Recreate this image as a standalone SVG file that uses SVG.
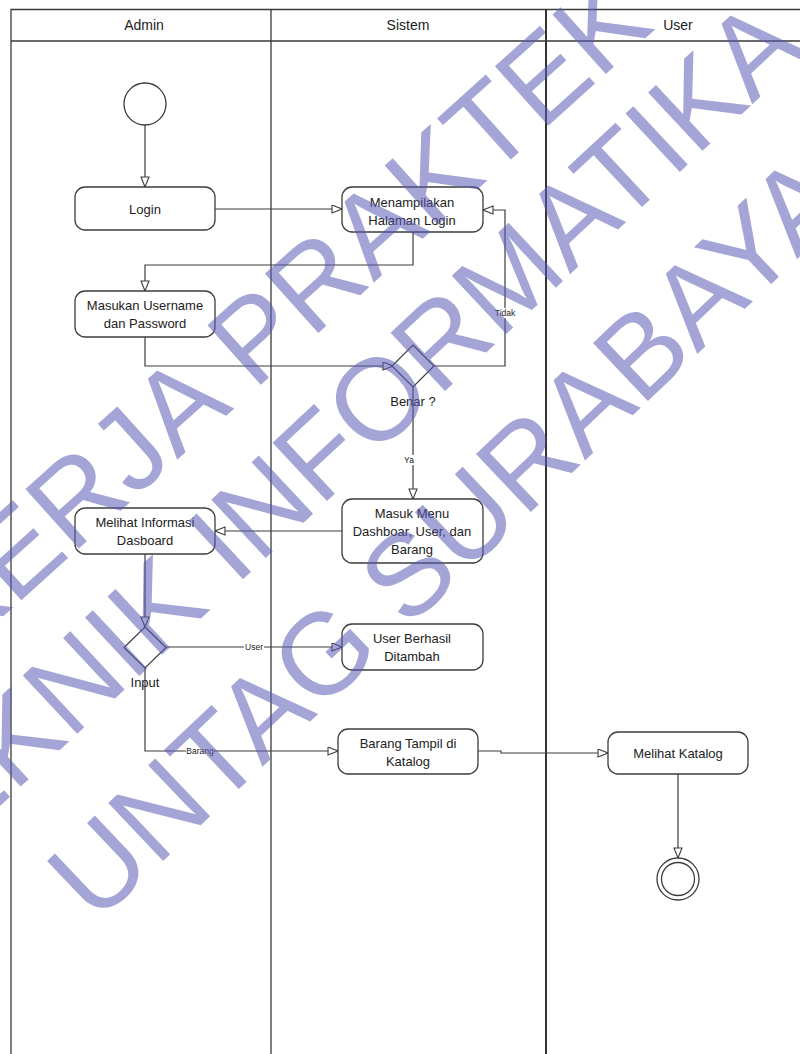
<svg xmlns="http://www.w3.org/2000/svg" width="800" height="1054" viewBox="0 0 800 1054">
<style>
.lane{fill:none;stroke:#3a3a3a;stroke-width:1.3}
.hdr{font-family:"Liberation Sans",Arial,sans-serif;font-size:14px;fill:#222;text-anchor:middle}
.box{fill:#fff;stroke:#3c3c3c;stroke-width:1.3}
.t{font-family:"Liberation Sans",Arial,sans-serif;font-size:13px;fill:#222;text-anchor:middle}
.s{font-family:"Liberation Sans",Arial,sans-serif;font-size:8.5px;fill:#222;text-anchor:middle}
.c{fill:none;stroke:#3c3c3c;stroke-width:1.2;marker-end:url(#arr)}
.lb{fill:#fff}
.wm{font-family:"Liberation Sans",Arial,sans-serif;font-size:116px;fill:#5a5ab4;fill-opacity:0.55;text-anchor:middle}
</style>
<defs>
<marker id="arr" markerUnits="userSpaceOnUse" markerWidth="12" markerHeight="10" refX="11" refY="4.5" orient="auto">
<path d="M1,0.5 L11,4.5 L1,8.5 Z" fill="#fff" stroke="#3c3c3c" stroke-width="1.1"/>
</marker>
</defs>
<rect width="800" height="1054" fill="#fff"/>
<g id="lanes">
<path class="lane" d="M11,1054 V9.5 H800 M11,41 H800 M271,9.5 V1054"/>
<path d="M546,9.5 V1054" fill="none" stroke="#333" stroke-width="2"/>
<text class="hdr" x="144" y="30">Admin</text>
<text class="hdr" x="408" y="30">Sistem</text>
<text class="hdr" x="678" y="30">User</text>
</g>
<g id="connectors">
<path class="c" d="M145,125 V187"/>
<path class="c" d="M215,209 H342"/>
<path class="c" d="M413,232 V265 H145 V291"/>
<path class="c" d="M145,337 V366 H393"/>
<path class="c" d="M433,366 H505 V210 H483"/>
<path class="c" d="M413,387 V499"/>
<path class="c" d="M342,531 H215"/>
<path class="c" d="M145,554 V627"/>
<path class="c" d="M166,647 H342"/>
<path class="c" d="M145,668 V751 H338"/>
<path class="c" d="M478,751 H501 V753 H608"/>
<path class="c" d="M678,774 V858"/>
<rect class="lb" x="494" y="308" width="22" height="10"/>
<text class="s" x="505" y="316">Tidak</text>
<rect class="lb" x="403" y="455" width="12" height="10"/>
<text class="s" x="409" y="463">Ya</text>
<rect class="lb" x="244" y="642" width="20" height="10"/>
<text class="s" x="254" y="650">User</text>
<rect class="lb" x="186" y="746" width="28" height="10"/>
<text class="s" x="200" y="754">Barang</text>
</g>
<g id="start"><circle cx="145" cy="104" r="21" fill="#fff" stroke="#3c3c3c" stroke-width="1.3"/></g>
<g id="login"><rect class="box" x="75" y="187" width="140" height="43" rx="10"/><text class="t" x="145" y="214">Login</text></g>
<g id="halaman-login"><rect class="box" x="342" y="187" width="141" height="45" rx="10"/><text class="t" x="412" y="207">Menampilakan</text><text class="t" x="412" y="225">Halaman Login</text></g>
<g id="masukan"><rect class="box" x="75" y="291" width="140" height="46" rx="10"/><text class="t" x="145" y="310">Masukan Username</text><text class="t" x="145" y="328">dan Password</text></g>
<g id="benar"><path d="M413,345 L434,366 L413,387 L392,366 Z" fill="#fff" stroke="#3c3c3c" stroke-width="1.2"/><text class="t" x="413" y="406">Benar ?</text></g>
<g id="masuk-menu"><rect class="box" x="342" y="499" width="141" height="64" rx="10"/><text class="t" x="412" y="518">Masuk Menu</text><text class="t" x="412" y="536">Dashboar, User, dan</text><text class="t" x="412" y="554">Barang</text></g>
<g id="melihat-info"><rect class="box" x="75" y="508" width="140" height="46" rx="10"/><text class="t" x="145" y="527">Melihat Informasi</text><text class="t" x="145" y="545">Dasboard</text></g>
<g id="input"><path d="M145,627 L166,647.5 L145,668 L124,647.5 Z" fill="#fff" stroke="#3c3c3c" stroke-width="1.2"/><text class="t" x="145" y="687">Input</text></g>
<g id="user-berhasil"><rect class="box" x="342" y="624" width="141" height="46" rx="10"/><text class="t" x="412" y="643">User Berhasil</text><text class="t" x="412" y="661">Ditambah</text></g>
<g id="barang-tampil"><rect class="box" x="338" y="729" width="140" height="45" rx="10"/><text class="t" x="408" y="748">Barang Tampil di</text><text class="t" x="408" y="766">Katalog</text></g>
<g id="melihat-katalog"><rect class="box" x="608" y="732" width="140" height="42" rx="10"/><text class="t" x="678" y="758">Melihat Katalog</text></g>
<g id="end"><circle cx="678" cy="879" r="21" fill="#fff" stroke="#3c3c3c" stroke-width="1.3"/><circle cx="678" cy="879" r="16.5" fill="none" stroke="#3c3c3c" stroke-width="1.3"/></g>
<g id="watermark">
<text class="wm" transform="translate(279,313) rotate(-42)" x="0" y="41">KERJA PRAKTEK</text>
<text class="wm" transform="translate(329,443) rotate(-43)" x="0" y="41">TEKNIK INFORMATIKA</text>
<text class="wm" transform="translate(446,536) rotate(-43.5)" x="0" y="41">UNTAG SURABAYA</text>
</g>
</svg>
